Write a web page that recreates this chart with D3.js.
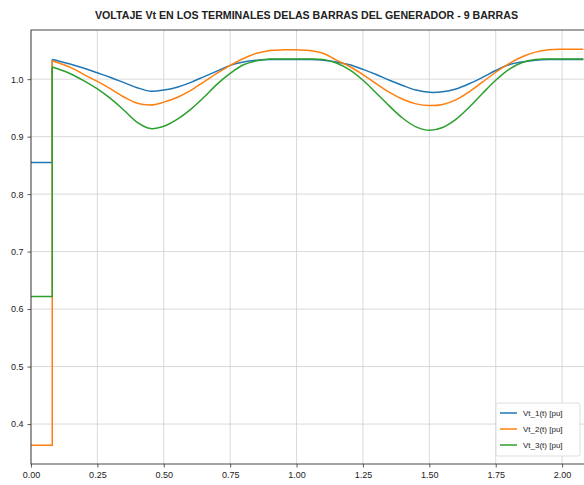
<!DOCTYPE html>
<html><head><meta charset="utf-8">
<script src="https://cdn.jsdelivr.net/npm/d3@7"></script>
<style>body{margin:0;background:#fff}svg{display:block}</style>
</head><body>
<svg id="c" width="584" height="485"></svg>
<script>
const title = "VOLTAJE Vt EN LOS TERMINALES DELAS BARRAS DEL GENERADOR - 9 BARRAS";
const seriesNames = ["Vt_1(t) [pu]", "Vt_2(t) [pu]", "Vt_3(t) [pu]"];
const colors = ["#1f77b4", "#ff7f0e", "#2ca02c"];
const xTicks = [0, 0.25, 0.5, 0.75, 1.0, 1.25, 1.5, 1.75, 2.0];
const yTicks = [0.4, 0.5, 0.6, 0.7, 0.8, 0.9, 1.0];
const faultTime = 0.08;
const preValues = [0.855, 0.363, 0.622];
const time = [0.08,0.10,0.15,0.20,0.25,0.30,0.35,0.40,0.45,0.50,0.55,0.60,0.65,0.70,0.75,0.80,0.85,0.90,0.95,1.00,1.05,1.10,1.15,1.20,1.25,1.30,1.35,1.40,1.45,1.50,1.55,1.60,1.65,1.70,1.75,1.80,1.85,1.90,1.95,2.00,2.05,2.08];
const vt1 = [1.034,1.032,1.026,1.019,1.011,1.003,0.994,0.985,0.979,0.981,0.986,0.994,1.004,1.014,1.024,1.030,1.033,1.034,1.034,1.034,1.034,1.033,1.030,1.025,1.017,1.008,0.998,0.989,0.981,0.977,0.978,0.983,0.992,1.003,1.015,1.025,1.030,1.033,1.034,1.034,1.034,1.034];
const vt2 = [1.032,1.029,1.020,1.008,0.996,0.983,0.969,0.958,0.955,0.960,0.968,0.980,0.995,1.010,1.024,1.036,1.045,1.050,1.051,1.051,1.050,1.045,1.033,1.022,1.008,0.992,0.977,0.965,0.957,0.954,0.956,0.964,0.978,0.995,1.012,1.027,1.039,1.047,1.051,1.052,1.052,1.052];
const vt3 = [1.021,1.018,1.009,0.997,0.983,0.966,0.946,0.925,0.914,0.918,0.930,0.947,0.968,0.991,1.010,1.025,1.032,1.035,1.035,1.035,1.035,1.034,1.028,1.016,0.998,0.976,0.953,0.932,0.917,0.911,0.916,0.930,0.951,0.975,0.998,1.017,1.029,1.034,1.035,1.035,1.035,1.035];
const postValues = [vt1, vt2, vt3];

const svg = d3.select("#c");
const L = 31, R = 586, T = 30, B = 464;
const x = d3.scaleLinear().domain([0, 2.09]).range([L, R]);
const y = d3.scaleLinear().domain([0.3305, 1.0855]).range([B, T]);
const font = "'Liberation Sans', Arial, sans-serif";

svg.append("clipPath").attr("id","clip").append("rect")
  .attr("x", L).attr("y", T).attr("width", R - L).attr("height", B - T);

const grid = svg.append("g").attr("stroke", "#cfcfcf").attr("stroke-width", 0.8);
xTicks.forEach(t => grid.append("line").attr("x1", x(t)).attr("x2", x(t)).attr("y1", T).attr("y2", B));
yTicks.forEach(t => grid.append("line").attr("x1", L).attr("x2", R).attr("y1", y(t)).attr("y2", y(t)));

const plot = svg.append("g").attr("clip-path", "url(#clip)");
const lineLin = d3.line().x(d => x(d[0])).y(d => y(d[1]));
const lineSmooth = d3.line().x(d => x(d[0])).y(d => y(d[1])).curve(d3.curveCatmullRom.alpha(0.5));
postValues.forEach((vals, i) => {
  const pre = [[0, preValues[i]], [faultTime, preValues[i]], [time[0], vals[0]]];
  const post = time.map((t, j) => [t, vals[j]]);
  plot.append("path").attr("d", lineLin(pre)).attr("fill", "none")
    .attr("stroke", colors[i]).attr("stroke-width", 1.5);
  plot.append("path").attr("d", lineSmooth(post)).attr("fill", "none")
    .attr("stroke", colors[i]).attr("stroke-width", 1.5);
});

const xAxis = svg.append("g").attr("transform", `translate(0,${B})`)
  .call(d3.axisBottom(x).tickValues(xTicks).tickFormat(d3.format(".2f")).tickSize(3.5).tickPadding(4));
const yAxis = svg.append("g").attr("transform", `translate(${L},0)`)
  .call(d3.axisLeft(y).tickValues(yTicks).tickFormat(d3.format(".1f")).tickSize(3.5).tickPadding(4));
[xAxis, yAxis].forEach(a => {
  a.select(".domain").remove();
  a.selectAll("line").attr("stroke", "#333").attr("stroke-width", 0.8);
  a.selectAll("text").attr("font-family", font).attr("font-size", 9).attr("fill", "#222");
});
svg.append("rect").attr("x", L).attr("y", T).attr("width", R - L).attr("height", B - T)
  .attr("fill", "none").attr("stroke", "#333").attr("stroke-width", 0.9);

svg.append("text").attr("x", 306.5).attr("y", 19).attr("text-anchor", "middle")
  .attr("font-family", font).attr("font-size", 10).attr("font-weight", "bold").attr("fill", "#222")
  .attr("textLength", 423).attr("lengthAdjust", "spacingAndGlyphs").text(title);

const lg = svg.append("g");
lg.append("rect").attr("x", 496).attr("y", 403).attr("width", 84).attr("height", 53).attr("rx", 2)
  .attr("fill", "#fff").attr("fill-opacity", 0.9).attr("stroke", "#d6d6d6").attr("stroke-width", 0.8);
seriesNames.forEach((n, i) => {
  const yy = 413 + i * 16;
  lg.append("line").attr("x1", 500).attr("x2", 517).attr("y1", yy).attr("y2", yy)
    .attr("stroke", colors[i]).attr("stroke-width", 1.5);
  lg.append("text").attr("x", 523).attr("y", yy + 3).attr("font-family", font).attr("font-size", 8)
    .attr("fill", "#222").text(n);
});
</script>
</body></html>
